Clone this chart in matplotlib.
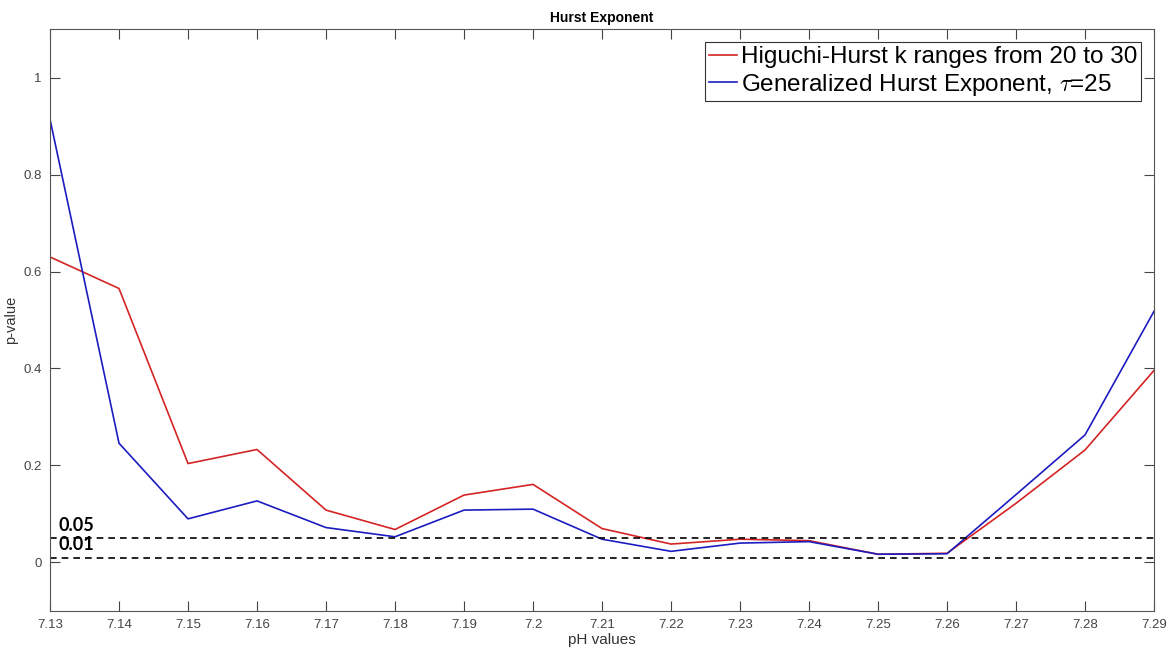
import numpy as np
import matplotlib
matplotlib.use('Agg')
import matplotlib.pyplot as plt

plt.rcParams['font.family'] = ['Liberation Sans', 'DejaVu Sans']
plt.rcParams['mathtext.fontset'] = 'cm'

# pH values and p-values
ph = [7.13, 7.14, 7.15, 7.16, 7.17, 7.18, 7.19, 7.20, 7.21,
      7.22, 7.23, 7.24, 7.25, 7.26, 7.27, 7.28, 7.29]
higuchi = [0.630, 0.565, 0.204, 0.233, 0.108, 0.068, 0.139, 0.161, 0.070,
           0.038, 0.048, 0.045, 0.017, 0.019, 0.122, 0.232, 0.396]
generalized = [0.914, 0.246, 0.090, 0.127, 0.072, 0.053, 0.108, 0.110, 0.048,
               0.023, 0.040, 0.043, 0.017, 0.018, 0.140, 0.263, 0.518]
thresholds = [0.05, 0.01]
threshold_labels = ['0.05', '0.01']

fig = plt.figure(figsize=(11.71, 6.55), dpi=100)
ax = fig.add_axes([0.0427, 0.0672, 0.9428, 0.8885])

ax.plot(ph, higuchi, color='#d42424', lw=1.2,
        label='Higuchi-Hurst k ranges from 20 to 30')
ax.plot(ph, generalized, color='#1c1cc0', lw=1.2,
        label=r'Generalized Hurst Exponent, $\tau$=25')

for t, lab in zip(thresholds, threshold_labels):
    ax.axhline(t, color='black', ls=(0, (4, 3)), lw=1.2)
    ax.text(ph[0] + 0.0013, t + 0.009, lab, fontsize=13, fontweight='bold',
            family='Lato', va='bottom', ha='left')

ax.set_xlim(ph[0], ph[-1])
ax.set_ylim(-0.1, 1.1)
ax.set_xticks(ph)
ax.set_xticklabels(['%g' % v for v in ph])
ax.set_yticks([0, 0.2, 0.4, 0.6, 0.8, 1])
ax.set_yticklabels(['0', '0.2', '0.4', '0.6', '0.8', '1'])

ax.tick_params(direction='in', length=7, width=0.8, top=True, right=True,
               labelsize=9.5, labelcolor='#444444', color='#444444', pad=6)
for s in ax.spines.values():
    s.set_color('#555555')
    s.set_linewidth(0.8)

ax.set_title('Hurst Exponent', fontsize=10, fontweight='bold', pad=5)
ax.set_xlabel('pH values', fontsize=11, color='#333333', labelpad=1)
ax.set_ylabel('p-value', fontsize=10.5, color='#333333', labelpad=4)

leg = ax.legend(loc='upper right', fontsize=17.5, handlelength=1.15,
                handletextpad=0.15, borderpad=0.15, labelspacing=0.15,
                fancybox=False, framealpha=1, borderaxespad=0.55)
leg.get_frame().set_edgecolor('#333333')
leg.get_frame().set_linewidth(0.8)

plt.savefig('out.png', dpi=100)
